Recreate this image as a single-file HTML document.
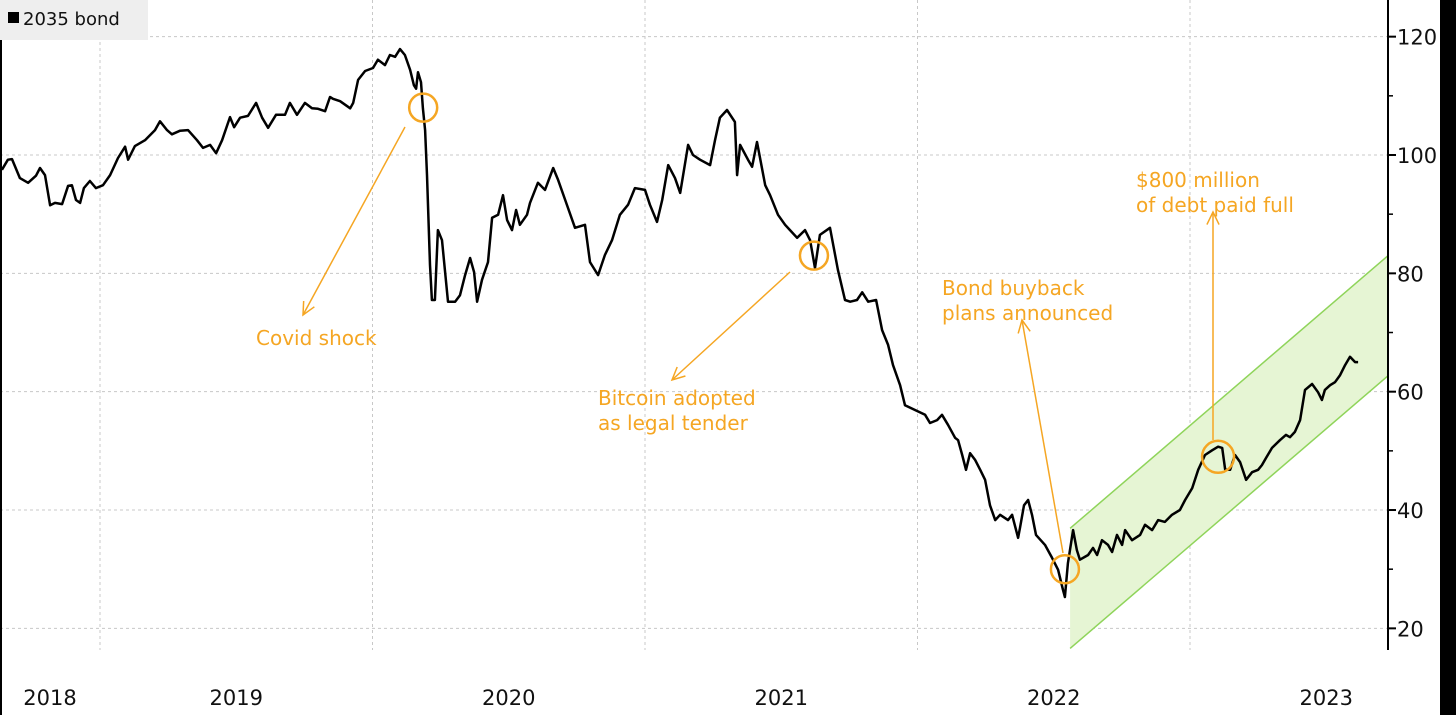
<!DOCTYPE html>
<html><head><meta charset="utf-8"><style>
html,body{margin:0;padding:0;background:#fff;width:1456px;height:715px;overflow:hidden}
svg text{font-family:"DejaVu Sans","Liberation Sans",sans-serif}
</style></head><body>
<svg id="chart" width="1456" height="715" xmlns="http://www.w3.org/2000/svg">
<rect x="0" y="0" width="1456" height="715" fill="#fff"/>
<g id="grid"></g>
<g id="channel"></g>
<g id="series"></g>
<g id="annot"></g>
<g id="axes"></g>
<g>
<rect x="0" y="0" width="148" height="40" fill="#eeeeee"/>
<rect x="8" y="12" width="11" height="11" fill="#000"/>
<text x="23" y="25" font-size="18" fill="#111">2035 bond</text>
</g>
<rect x="1440" y="0" width="16" height="715" fill="#000"/>
<rect x="0" y="40" width="2" height="675" fill="#000"/>
</svg>
<script>
const dates=[2018.640,2018.662,2018.677,2018.706,2018.736,2018.765,2018.780,2018.798,2018.817,2018.835,2018.861,2018.883,2018.897,2018.912,2018.927,2018.941,2018.963,2018.985,2019.011,2019.037,2019.066,2019.092,2019.103,2019.128,2019.165,2019.202,2019.220,2019.246,2019.264,2019.294,2019.323,2019.356,2019.378,2019.404,2019.426,2019.448,2019.477,2019.492,2019.514,2019.543,2019.573,2019.595,2019.617,2019.646,2019.679,2019.697,2019.723,2019.752,2019.778,2019.800,2019.826,2019.844,2019.855,2019.881,2019.918,2019.929,2019.947,2019.973,2020.002,2020.020,2020.046,2020.064,2020.083,2020.101,2020.119,2020.138,2020.152,2020.160,2020.167,2020.178,2020.185,2020.193,2020.200,2020.211,2020.218,2020.229,2020.240,2020.255,2020.262,2020.277,2020.303,2020.321,2020.340,2020.358,2020.373,2020.384,2020.402,2020.424,2020.439,2020.461,2020.479,2020.494,2020.512,2020.527,2020.541,2020.567,2020.578,2020.607,2020.633,2020.663,2020.681,2020.707,2020.743,2020.780,2020.798,2020.828,2020.853,2020.879,2020.908,2020.938,2020.963,2021.000,2021.018,2021.044,2021.063,2021.085,2021.110,2021.129,2021.158,2021.176,2021.202,2021.239,2021.257,2021.275,2021.301,2021.330,2021.338,2021.349,2021.378,2021.393,2021.411,2021.441,2021.459,2021.488,2021.514,2021.532,2021.558,2021.587,2021.606,2021.624,2021.642,2021.679,2021.708,2021.734,2021.753,2021.778,2021.797,2021.819,2021.848,2021.870,2021.892,2021.910,2021.936,2021.954,2021.991,2022.028,2022.046,2022.072,2022.090,2022.112,2022.138,2022.149,2022.164,2022.178,2022.193,2022.211,2022.230,2022.248,2022.266,2022.285,2022.303,2022.332,2022.347,2022.369,2022.376,2022.391,2022.406,2022.420,2022.435,2022.468,2022.494,2022.516,2022.534,2022.541,2022.552,2022.571,2022.585,2022.596,2022.626,2022.644,2022.659,2022.677,2022.699,2022.714,2022.732,2022.751,2022.762,2022.787,2022.817,2022.835,2022.861,2022.883,2022.908,2022.934,2022.963,2022.982,2023.008,2023.030,2023.055,2023.081,2023.103,2023.118,2023.129,2023.147,2023.165,2023.184,2023.206,2023.228,2023.250,2023.264,2023.279,2023.301,2023.330,2023.352,2023.367,2023.385,2023.404,2023.422,2023.448,2023.470,2023.484,2023.495,2023.514,2023.532,2023.551,2023.569,2023.587,2023.606,2023.617];
const prices=[97.5,99.2,99.3,96.1,95.3,96.5,97.8,96.6,91.5,91.9,91.7,94.8,94.9,92.4,91.9,94.4,95.6,94.4,94.9,96.6,99.5,101.4,99.2,101.5,102.5,104.2,105.7,104.2,103.5,104.1,104.2,102.5,101.2,101.7,100.3,102.5,106.4,104.7,106.3,106.6,108.8,106.3,104.6,106.8,106.8,108.8,106.8,108.8,107.9,107.8,107.4,109.8,109.5,109.1,107.9,108.8,112.7,114.2,114.7,116.1,115.2,116.9,116.6,117.9,116.9,114.4,111.8,111.2,114.0,112.3,107.9,104.2,96.6,81.4,75.5,75.5,87.3,85.6,82.3,75.2,75.2,76.3,79.7,82.6,80.2,75.2,78.9,81.9,89.4,89.9,93.2,89.0,87.3,90.7,88.2,89.9,91.9,95.3,94.1,97.8,95.8,92.4,87.7,88.2,81.9,79.7,83.1,85.6,89.9,91.6,94.4,94.1,91.6,88.7,92.4,98.3,96.1,93.6,101.7,100.0,99.2,98.3,102.5,106.3,107.6,105.6,96.6,101.7,99.2,98.0,102.2,94.9,93.2,89.9,88.2,87.3,86.0,87.3,85.6,80.9,86.5,87.7,80.6,75.5,75.2,75.5,76.8,75.2,75.5,70.4,67.9,64.5,61.1,57.7,56.9,56.1,54.7,55.2,56.1,54.4,52.2,51.8,49.3,46.8,49.6,48.5,46.8,45.1,40.8,38.3,39.2,38.3,39.2,35.3,37.0,40.8,41.7,39.2,35.8,34.1,31.9,29.9,26.5,25.3,31.0,36.6,33.2,31.6,32.4,33.6,32.4,34.9,34.1,32.9,35.8,34.1,36.6,34.9,35.8,37.5,36.6,38.3,38.0,39.2,40.0,41.7,43.7,46.8,49.3,50.1,50.7,50.5,46.8,46.8,49.3,48.1,45.1,46.4,46.8,47.6,48.8,50.5,51.8,52.7,52.3,53.2,55.2,60.3,61.3,59.9,58.6,60.3,61.1,61.6,62.8,64.5,65.9,65.0,65.0];
const yTicks=[20,40,60,80,100,120];
const yMinor=[30,50,70,90,110];
const yearTicks=[2019,2020,2021,2022,2023];
const yearLabels=["2018","2019","2020","2021","2022","2023"];
const yearLabelPos=[2018.5,2019.5,2020.5,2021.5,2022.5,2023.5];
const channelDates=[2022.560,2023.727];
const channelUpper=[36.9,83.0];
const channelLower=[16.6,62.7];
const eventDates=[2020.186,2021.620,2022.541,2023.103];
const eventValues=[108.0,83.0,30.0,49.0];

const NS="http://www.w3.org/2000/svg";
const PR=1388, PB=650;
const X=t=>100+(t-2019)*272.5;
const Y=v=>155-(v-100)*5.917;
function mk(tag,attrs,parent){const e=document.createElementNS(NS,tag);for(const k in attrs)e.setAttribute(k,attrs[k]);parent.appendChild(e);return e;}
const grid=document.getElementById('grid'),axes=document.getElementById('axes'),ser=document.getElementById('series'),ch=document.getElementById('channel'),an=document.getElementById('annot');
yTicks.forEach(v=>{
  const l=mk('line',{x1:0,x2:PR,y1:Y(v),y2:Y(v),stroke:'#c8c8c8','stroke-width':1,'stroke-dasharray':'3,3'},grid);
  
  
  const tk=mk('line',{x1:PR,x2:PR+8,y1:Y(v),y2:Y(v),stroke:'#000','stroke-width':2},axes);
  
  
  const tx=mk('text',{x:PR+9,y:Y(v)+8,'font-size':21,fill:'#111'},axes);
  tx.textContent=v;
  
  
});
yMinor.forEach(v=>{
  const tk=mk('line',{x1:PR,x2:PR+5,y1:Y(v),y2:Y(v),stroke:'#000','stroke-width':1.5},axes);
  
  
});
yearTicks.forEach(t=>{
  const l=mk('line',{x1:X(t),x2:X(t),y1:0,y2:PB,stroke:'#c8c8c8','stroke-width':1,'stroke-dasharray':'3,3'},grid);
  
  
});
yearLabels.forEach((s,i)=>{
  let x=X(yearLabelPos[i]); if(i===0) x=50;
  const tx=mk('text',{x:x,y:705,'font-size':21,fill:'#111','text-anchor':'middle'},axes);
  tx.textContent=s;
  
  
});
const ax=mk('line',{x1:PR,x2:PR,y1:0,y2:PB,stroke:'#000','stroke-width':2},axes);


// channel
const poly=`${X(channelDates[0])},${Y(channelUpper[0])} ${X(channelDates[1])},${Y(channelUpper[1])} ${X(channelDates[1])},${Y(channelLower[1])} ${X(channelDates[0])},${Y(Math.max(channelLower[0],16.3))}`;
const cf=mk('polygon',{points:poly,fill:'#e6f5d4',stroke:'none'},ch);


[channelUpper,channelLower].forEach((arr,i)=>{
  const l=mk('line',{x1:X(channelDates[0]),y1:Y(arr[0]),x2:X(channelDates[1]),y2:Y(arr[1]),stroke:'#8fd45a','stroke-width':1.5},ch);
  
  
});
// series
const d=dates.map((t,i)=>(i?'L':'M')+X(t).toFixed(1)+','+Y(prices[i]).toFixed(1)).join('');
const p=mk('path',{d:d,fill:'none',stroke:'#000','stroke-width':2.5,'stroke-linejoin':'round'},ser);


// annotations
const OR='#f5a623';
eventDates.forEach((t,i)=>{
  const c=mk('circle',{cx:X(t),cy:Y(eventValues[i]),r:i===3?16:14,fill:'none',stroke:OR,'stroke-width':2.5},an);
  
  
});
function arrow(x1,y1,x2,y2,name){
  const g=mk('g',{},an);
  
  
  mk('line',{x1,y1,x2,y2,stroke:OR,'stroke-width':1.5},g);
  const a=Math.atan2(y2-y1,x2-x1),L=14,s=0.45;
  mk('polyline',{points:`${x2-L*Math.cos(a-s)},${y2-L*Math.sin(a-s)} ${x2},${y2} ${x2-L*Math.cos(a+s)},${y2-L*Math.sin(a+s)}`,fill:'none',stroke:OR,'stroke-width':1.5},g);
}
arrow(405,127,303,315,'covid-arrow');
arrow(790,272,672,380,'bitcoin-arrow');
arrow(1063,553,1022,320,'buyback-arrow');
arrow(1213,440,1213,212,'debt-arrow');
function label(x,ys,lines,name){
  lines.forEach((s,i)=>{
    const t=mk('text',{x:x,y:ys+i*25,'font-size':20,fill:OR},an);
    t.textContent=s;
    
    
  });
}
label(256,345,['Covid shock'],'covid-label');
label(598,405,['Bitcoin adopted','as legal tender'],'bitcoin-label');
label(942,295,['Bond buyback','plans announced'],'buyback-label');
label(1136,187,['$800 million','of debt paid full'],'debt-label');
</script>
</body></html>
